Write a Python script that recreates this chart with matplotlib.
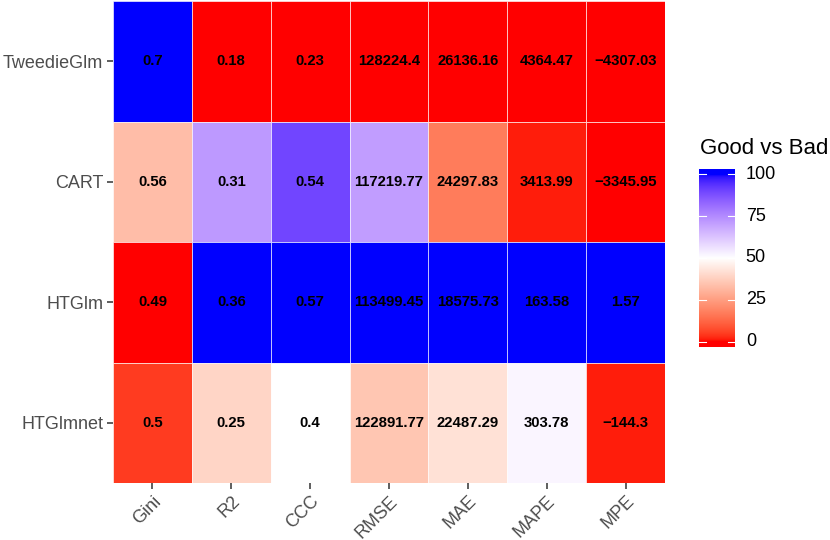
import numpy as np
import matplotlib
matplotlib.use("Agg")
import matplotlib.pyplot as plt
from matplotlib.colors import ListedColormap

plt.rcParams["font.family"] = ["Liberation Sans", "DejaVu Sans"]

# ----------------------------
# Data
# ----------------------------
models = ["TweedieGlm", "CART", "HTGlm", "HTGlmnet"]
metrics = ["Gini", "R2", "CCC", "RMSE", "MAE", "MAPE", "MPE"]

labels_tweedie = ["0.7", "0.18", "0.23", "128224.4", "26136.16", "4364.47", "\u22124307.03"]
labels_cart = ["0.56", "0.31", "0.54", "117219.77", "24297.83", "3413.99", "\u22123345.95"]
labels_htglm = ["0.49", "0.36", "0.57", "113499.45", "18575.73", "163.58", "1.57"]
labels_htglmnet = ["0.5", "0.25", "0.4", "122891.77", "22487.29", "303.78", "\u2212144.3"]

# "Good vs Bad" score (0-100)
score_tweedie = [100, 0, 0, 0, 0, 0, 0]
score_cart = [33, 72, 90, 71, 17, 1.5, 0]
score_htglm = [0, 100, 100, 100, 100, 100, 100]
score_htglmnet = [4.8, 39, 50, 35, 42, 52, 1.5]

legend_ticks = [0, 25, 50, 75, 100]


# ----------------------------
# ggplot-like gradient2 (Lab interpolation red - white - blue)
# ----------------------------
def srgb_to_lab(rgb):
    c = np.asarray(rgb, dtype=float)
    c = np.where(c > 0.04045, ((c + 0.055) / 1.055) ** 2.4, c / 12.92)
    m = np.array([[0.4124, 0.3576, 0.1805],
                  [0.2126, 0.7152, 0.0722],
                  [0.0193, 0.1192, 0.9505]])
    xyz = m @ c / np.array([0.95047, 1.0, 1.08883])
    f = np.where(xyz > 0.008856, np.cbrt(xyz), 7.787 * xyz + 16 / 116)
    return np.array([116 * f[1] - 16, 500 * (f[0] - f[1]), 200 * (f[1] - f[2])])


def lab_to_srgb(lab):
    L, a, b = lab
    fy = (L + 16) / 116
    fx = fy + a / 500
    fz = fy - b / 200
    f = np.array([fx, fy, fz])
    xyz = np.where(f ** 3 > 0.008856, f ** 3, (f - 16 / 116) / 7.787)
    xyz = xyz * np.array([0.95047, 1.0, 1.08883])
    m = np.array([[3.2406, -1.5372, -0.4986],
                  [-0.9689, 1.8758, 0.0415],
                  [0.0557, -0.2040, 1.0570]])
    c = m @ xyz
    c = np.where(c > 0.0031308, 1.055 * np.sign(c) * np.abs(c) ** (1 / 2.4) - 0.055, 12.92 * c)
    return np.clip(c, 0, 1)


def make_gradient2(low, mid, high, n=512):
    lo, mi, hi = srgb_to_lab(low), srgb_to_lab(mid), srgb_to_lab(high)
    cols = []
    for v in np.linspace(0, 1, n):
        if v <= 0.5:
            t = v / 0.5
            lab = lo + (mi - lo) * t
        else:
            t = (v - 0.5) / 0.5
            lab = mi + (hi - mi) * t
        cols.append(lab_to_srgb(lab))
    return ListedColormap(cols)


cmap = make_gradient2((1, 0, 0), (1, 1, 1), (0, 0, 1))

# ----------------------------
# Figure
# ----------------------------
fig = plt.figure(figsize=(8.3, 5.4), dpi=100)
ax = fig.add_axes([113 / 830, 1 - 483 / 540, 552 / 830, 482 / 540])

scores = np.array([score_tweedie, score_cart, score_htglm, score_htglmnet])
labels = [labels_tweedie, labels_cart, labels_htglm, labels_htglmnet]

nrow, ncol = scores.shape
for i in range(nrow):
    for j in range(ncol):
        col = cmap(scores[i, j] / 100)
        ax.add_patch(plt.Rectangle((j - 0.5, i - 0.5), 1, 1, facecolor=col,
                                   edgecolor=(1, 1, 1, 0.7), linewidth=0.6))
        ax.text(j, i, labels[i][j], ha="center", va="center",
                fontsize=10.7, fontweight="bold", color="black")

ax.set_xlim(-0.5, ncol - 0.5)
ax.set_ylim(nrow - 0.5, -0.5)
ax.set_xticks(range(ncol))
ax.set_xticklabels(metrics, rotation=45, ha="right", va="top",
                   rotation_mode="anchor", fontsize=13, color="#4D4D4D")
ax.set_yticks(range(nrow))
ax.set_yticklabels(models, fontsize=13, color="#4D4D4D")
ax.tick_params(axis="both", length=4, width=1.1, color="#333333", pad=3)
for s in ax.spines.values():
    s.set_visible(False)

# colorbar
cax = fig.add_axes([699 / 830, 1 - 347 / 540, 36 / 830, 178 / 540])
grad = np.linspace(103, -3, 300).reshape(-1, 1)
cax.imshow(np.clip(grad, 0, 100) / 100, aspect="auto", cmap=cmap, vmin=0, vmax=1,
           extent=[0, 1, -3, 103])
cax.set_xlim(0, 1)
cax.set_ylim(-3, 103)
cax.set_xticks([])
cax.set_yticks([])
for s in cax.spines.values():
    s.set_visible(False)
for t in legend_ticks:
    cax.plot([0, 0.2], [t, t], color="white", lw=0.8)
    cax.plot([0.8, 1], [t, t], color="white", lw=0.8)
    cax.text(1.3, t, str(t), ha="left", va="center", fontsize=13,
             transform=cax.transData, clip_on=False)
fig.text(700 / 830, 1 - 148 / 540, "Good vs Bad", fontsize=16, ha="left", va="center")

fig.savefig("out.png", dpi=100)
